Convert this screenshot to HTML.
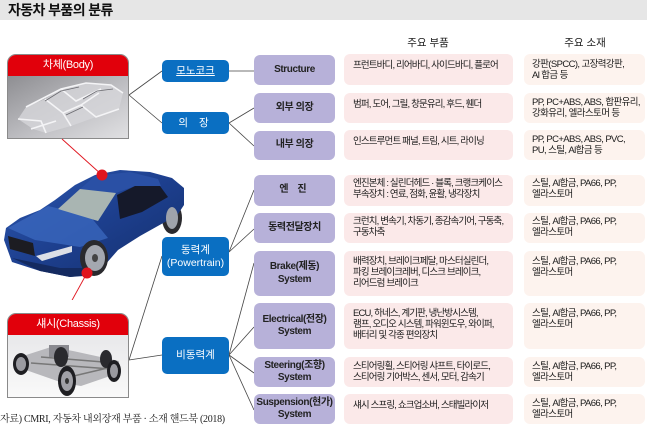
<!DOCTYPE html>
<html><head><meta charset="utf-8">
<style>
*{margin:0;padding:0;box-sizing:border-box}
html,body{width:647px;height:429px;background:#fff;overflow:hidden;position:relative;font-family:"Liberation Sans","Noto Sans CJK KR",sans-serif;color:#222}
.a{position:absolute}
.title{left:0;top:0;width:647px;height:20px;background:#e6e6e6}
.title span{position:absolute;left:8px;top:1px;font-size:14px;font-weight:bold;color:#111;letter-spacing:-0.6px;line-height:18px}
.hd{font-size:10.5px;top:36px;line-height:14px;text-align:center;width:80px;color:#222}
.pu{position:absolute;left:254px;width:81px;background:#b7b1d9;border-radius:6px;display:flex;align-items:center;justify-content:center;text-align:center;font-weight:bold;font-size:10px;line-height:12.5px;letter-spacing:-0.4px;color:#222}
.pk{position:absolute;left:344px;width:169px;background:#fbe9e9;border-radius:6px;font-size:9.5px;line-height:11px;padding:5px 0 0 9px;letter-spacing:-0.85px;white-space:nowrap;color:#1a1a1a}
.cr{position:absolute;left:524px;width:121px;background:#fdf3ee;border-radius:6px;font-size:9.5px;line-height:11px;padding:5px 0 0 8px;letter-spacing:-0.6px;white-space:nowrap;color:#1a1a1a}
.bl{position:absolute;left:162px;width:67px;background:#0a6fc2;border-radius:5px;color:#fff;display:flex;align-items:center;justify-content:center;text-align:center;font-size:10.5px;line-height:13px}
.box{position:absolute;left:7px;width:122px;height:85px;border:1px solid #8a8a8a;border-radius:9px 9px 0 0;overflow:hidden;background:#ddd}
.box .h{position:absolute;left:0;top:0;width:100%;height:21px;background:#e1000b;color:#fff;font-size:11px;text-align:center;line-height:21px;letter-spacing:-0.3px}
.src{left:0;top:410px;font-family:"Liberation Serif","Noto Serif CJK SC",serif;font-size:10px;color:#222;white-space:nowrap;letter-spacing:-0.3px}
</style></head><body>
<div class="a title"><span>자동차 부품의 분류</span></div>

<div class="a hd" style="left:388px">주요 부품</div>
<div class="a hd" style="left:545px">주요 소재</div>

<svg class="a" style="left:0;top:0" width="647" height="429" viewBox="0 0 647 429">
<g stroke="#444" stroke-width="0.8" fill="none">
<line x1="129" y1="95" x2="162" y2="71"/>
<line x1="129" y1="95" x2="162" y2="123"/>
<line x1="229" y1="71" x2="254" y2="71"/>
<line x1="229" y1="123" x2="254" y2="108"/>
<line x1="229" y1="123" x2="254" y2="146"/>
<line x1="229" y1="252" x2="254" y2="190"/>
<line x1="229" y1="252" x2="254" y2="229"/>
<line x1="162" y1="256" x2="129" y2="360"/>
<line x1="129" y1="360" x2="162" y2="355"/>
<line x1="229" y1="355" x2="254" y2="263"/>
<line x1="229" y1="355" x2="254" y2="327"/>
<line x1="229" y1="355" x2="254" y2="373"/>
<line x1="229" y1="355" x2="254" y2="410"/>
</g>
</svg>

<div class="box" style="top:54px">
  <div class="h">차체(Body)</div>
  <svg style="position:absolute;left:0;top:21px" width="122" height="64" viewBox="0 0 122 64">
    <defs><linearGradient id="bg1" x1="0" y1="0" x2="1" y2="1">
      <stop offset="0" stop-color="#8e8e92"/><stop offset="0.6" stop-color="#c4c4c8"/><stop offset="1" stop-color="#e2e2e4"/></linearGradient></defs>
    <rect width="122" height="64" fill="url(#bg1)"/>
    <g transform="translate(-7,-75)">
      <polygon points="17,118 25,106 44,98 60,88 85,82 110,84 122,92 118,108 95,116 70,125 45,132 32,128" fill="#d6d6da" opacity="0.8"/>
      <g stroke="#f4f4f6" stroke-width="1.6" fill="none">
        <path d="M25,106 L60,88 L85,82 L110,84 L122,92"/>
        <path d="M44,98 L62,112 L80,104 L98,92"/>
        <path d="M60,88 L75,100 L100,88"/>
        <path d="M62,112 L70,125"/>
        <path d="M80,104 L95,116 L118,108"/>
        <path d="M17,118 L40,120 L45,132"/>
        <path d="M30,128 L55,120"/>
      </g>
      <g stroke="#6a6a70" stroke-width="0.8" fill="none">
        <path d="M44,100 L60,90 L78,86"/>
        <path d="M82,98 L96,90 L112,88"/>
        <path d="M65,114 L82,106"/>
      </g>
    </g>
  </svg>
</div>

<div class="box" style="top:313px;height:85px">
  <div class="h">섀시(Chassis)</div>
  <svg style="position:absolute;left:0;top:21px" width="122" height="64" viewBox="0 0 122 64">
    <defs><linearGradient id="bg2" x1="0" y1="0" x2="0" y2="1">
      <stop offset="0" stop-color="#e8e8ea"/><stop offset="1" stop-color="#fafafa"/></linearGradient></defs>
    <rect width="122" height="64" fill="url(#bg2)"/>
    <g transform="translate(-7,-334)">
      <polygon points="22,355 50,346 72,350 118,360 118,372 80,385 62,382 22,368" fill="#b8b8bc"/>
      <path d="M30,362 L110,368 M40,356 L115,362 M60,378 L115,365" stroke="#777" stroke-width="1.5" fill="none"/>
      <rect x="48" y="344" width="20" height="12" fill="#8a8a90"/>
      <ellipse cx="60" cy="356" rx="7" ry="10" fill="#2a2a2e"/>
      <ellipse cx="105" cy="358" rx="6" ry="9" fill="#2a2a2e"/>
      <ellipse cx="20" cy="363" rx="8" ry="11" fill="#1e1e22"/>
      <ellipse cx="20" cy="363" rx="5" ry="7" fill="#9a9aa0"/>
      <ellipse cx="113" cy="370" rx="7" ry="11" fill="#1e1e22"/>
      <ellipse cx="113" cy="370" rx="4" ry="7" fill="#9a9aa0"/>
      <ellipse cx="66" cy="380" rx="9" ry="15" fill="#1e1e22"/>
      <ellipse cx="66" cy="380" rx="6" ry="10" fill="#a0a0a6"/>
      <ellipse cx="66" cy="380" rx="2" ry="3" fill="#333"/>
    </g>
  </svg>
</div>

<svg class="a" style="left:0;top:0" width="200" height="300" viewBox="0 0 200 300">
  <defs>
    <linearGradient id="cb" x1="0" y1="0" x2="1" y2="1">
      <stop offset="0" stop-color="#2d58b0"/><stop offset="0.5" stop-color="#1d3f8e"/><stop offset="1" stop-color="#142e6a"/></linearGradient>
  </defs>
  <ellipse cx="172" cy="218" rx="10" ry="16" fill="#2a2a2e"/>
  <polygon points="4,240 6,228 20,218 40,210 55,200 75,185 95,175 120,170 150,172 172,178 184,188 184,205 178,214 165,222 140,236 118,250 104,266 98,275 70,277 40,271 12,262" fill="url(#cb)"/>
  <polygon points="8,228 48,206 90,216 108,238 80,247 35,240" fill="#3a66bd" opacity="0.8"/>
  <polygon points="80,189 95,176 130,172 158,179 161,186 135,186 116,193" fill="#2a50a5"/>
  <polygon points="58,209 80,189 116,193 98,221" fill="#a9b5b2"/>
  <polygon points="117,195 135,186 160,186 168,197 142,212 120,219" fill="#15192a"/>
  <polygon points="8,236 33,243 35,256 10,249" fill="#1c1c22"/>
  <polygon points="36,256 72,246 72,252 42,261" fill="#dcdfe6"/>
  <polygon points="12,258 60,268 96,268 96,274 70,277 40,271" fill="#142a60"/>
  <ellipse cx="172" cy="218" rx="6" ry="11" fill="#9fa3ab"/>
  <ellipse cx="94" cy="258" rx="14" ry="18" fill="#2a2a2e"/>
  <ellipse cx="95" cy="258" rx="10" ry="13" fill="#a4a8b0"/>
  <ellipse cx="95" cy="258" rx="3" ry="4" fill="#444"/>
  <line x1="62" y1="139" x2="102" y2="175" stroke="#e0141e" stroke-width="0.9"/>
  <line x1="87" y1="273" x2="65" y2="313" stroke="#e0141e" stroke-width="0.9"/>
  <circle cx="102" cy="175" r="5.5" fill="#e0141e"/>
  <circle cx="87" cy="273" r="5.5" fill="#e0141e"/>
</svg>

<div class="bl" style="top:60px;height:22px"><span style="text-decoration:underline">모노코크</span></div>
<div class="bl" style="top:112px;height:22px;letter-spacing:4px">의 장</div>
<div class="bl" style="top:237px;height:39px">동력계<br>(Powertrain)</div>
<div class="bl" style="top:337px;height:37px">비동력계</div>

<div class="pu" style="top:55px;height:30px">Structure</div>
<div class="pu" style="top:93px;height:30px">외부 의장</div>
<div class="pu" style="top:131px;height:29px">내부 의장</div>
<div class="pu" style="top:175px;height:31px;letter-spacing:3px">엔 진</div>
<div class="pu" style="top:213px;height:30px">동력전달장치</div>
<div class="pu" style="top:251px;height:45px">Brake(제동)<br>System</div>
<div class="pu" style="top:303px;height:46px">Electrical(전장)<br>System</div>
<div class="pu" style="top:357px;height:30px">Steering(조향)<br>System</div>
<div class="pu" style="top:394px;height:30px">Suspension(현가)<br>System</div>

<div class="pk" style="top:54px;height:31px;padding-top:6px">프런트바디, 리어바디, 사이드바디, 플로어</div>
<div class="pk" style="top:93px;height:30px;padding-top:6px">범퍼, 도어, 그릴, 창문유리, 후드, 휀더</div>
<div class="pk" style="top:130px;height:30px;padding-top:6px">인스트루먼트 패널, 트림, 시트, 라이닝</div>
<div class="pk" style="top:175px;height:31px;padding-top:3px">엔진본체 : 실린더헤드 · 블록, 크랭크케이스<br>부속장치 : 연료, 점화, 윤활, 냉각장치</div>
<div class="pk" style="top:213px;height:30px;padding-top:3px">크런치, 변속기, 차동기, 종감속기어, 구동축,<br>구동차축</div>
<div class="pk" style="top:251px;height:45px;padding-top:5px">배력장치, 브레이크페달, 마스터실린더,<br>파킹 브레이크레버, 디스크 브레이크,<br>리어드럼 브레이크</div>
<div class="pk" style="top:303px;height:46px;padding-top:5px">ECU, 하네스, 계기판, 냉난방시스템,<br>램프, 오디오 시스템, 파워윈도우, 와이퍼,<br>배터리 및 각종 편의장치</div>
<div class="pk" style="top:357px;height:30px;padding-top:4px">스티어링휠, 스티어링 샤프트, 타이로드,<br>스티어링 기어박스, 센서, 모터, 감속기</div>
<div class="pk" style="top:394px;height:30px;padding-top:6px">섀시 스프링, 쇼크업소버, 스태빌라이저</div>

<div class="cr" style="top:54px;height:31px;padding-top:5px">강판(SPCC), 고장력강판,<br>Al 합금 등</div>
<div class="cr" style="top:93px;height:30px;padding-top:4px">PP, PC+ABS, ABS, 합판유리,<br>강화유리, 엘라스토머 등</div>
<div class="cr" style="top:130px;height:30px;padding-top:4px">PP, PC+ABS, ABS, PVC,<br>PU, 스틸, Al합금 등</div>
<div class="cr" style="top:175px;height:31px;padding-top:3px">스틸, Al합금, PA66, PP,<br>엘라스토머</div>
<div class="cr" style="top:213px;height:30px;padding-top:3px">스틸, Al합금, PA66, PP,<br>엘라스토머</div>
<div class="cr" style="top:251px;height:45px;padding-top:5px">스틸, Al합금, PA66, PP,<br>엘라스토머</div>
<div class="cr" style="top:303px;height:46px;padding-top:5px">스틸, Al합금, PA66, PP,<br>엘라스토머</div>
<div class="cr" style="top:357px;height:30px;padding-top:4px">스틸, Al합금, PA66, PP,<br>엘라스토머</div>
<div class="cr" style="top:394px;height:30px;padding-top:4px">스틸, Al합금, PA66, PP,<br>엘라스토머</div>

<div class="a src">자료) CMRI, 자동차 내외장재 부품 · 소재 핸드북 (2018)</div>
</body></html>
